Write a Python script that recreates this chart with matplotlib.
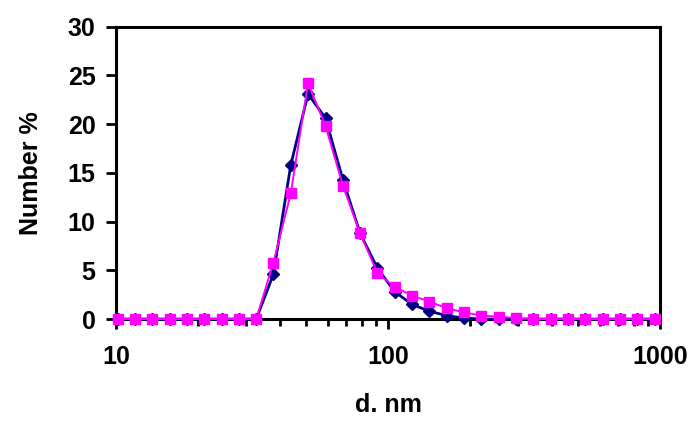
import matplotlib
matplotlib.use("Agg")
import matplotlib.pyplot as plt
from matplotlib.ticker import LogLocator, NullFormatter, FixedLocator, FixedFormatter

# Size bins (nm)
diameter = [10.1, 11.7, 13.5, 15.7, 18.2, 21.0, 24.4, 28.2, 32.7, 37.8,
            43.8, 50.7, 58.8, 68.1, 78.8, 91.3, 105.7, 122.4, 141.8, 164.2,
            190.1, 220.2, 255.0, 295.3, 342.0, 396.1, 458.7, 531.2, 615.1,
            712.4, 825.0, 955.4]

# Series 1 (navy diamonds)
number_a = [0, 0, 0, 0, 0, 0, 0, 0, 0, 4.6,
            15.8, 23.1, 20.6, 14.3, 8.8, 5.2, 2.8, 1.5, 0.8, 0.35,
            0.1, 0, 0, 0, 0, 0, 0, 0, 0, 0, 0, 0]

# Series 2 (magenta squares)
number_b = [0, 0, 0, 0, 0, 0, 0, 0, 0, 5.8,
            12.9, 24.2, 19.8, 13.7, 8.8, 4.7, 3.3, 2.4, 1.8, 1.1,
            0.7, 0.35, 0.25, 0.1, 0, 0, 0, 0, 0, 0, 0, 0]

y_ticks = [0, 5, 10, 15, 20, 25, 30]
x_ticks = [10, 100, 1000]
x_tick_labels = ["10", "100", "1000"]

plt.rcParams['font.family'] = ['Liberation Sans', 'DejaVu Sans']
plt.rcParams['font.weight'] = 'bold'

fig = plt.figure(figsize=(6.97, 4.30), dpi=100)
ax = fig.add_axes([0.167, 0.258, 0.780, 0.680])

ax.plot(diameter, number_a, color='#000080', lw=2.0, marker='D',
        markersize=6, markerfacecolor='#000080', markeredgecolor='#000080',
        zorder=3, clip_on=False)
ax.plot(diameter, number_b, color='#FF00FF', lw=1.4, marker='s',
        markersize=7.5, markerfacecolor='#FF00FF', markeredgecolor='#FF00FF',
        zorder=4, clip_on=False)

ax.set_xscale('log')
ax.set_xlim(10, 1000)
ax.set_ylim(0, 30)

ax.xaxis.set_major_locator(FixedLocator(x_ticks))
ax.xaxis.set_major_formatter(FixedFormatter(x_tick_labels))
ax.xaxis.set_minor_locator(LogLocator(base=10, subs=range(2, 10)))
ax.xaxis.set_minor_formatter(NullFormatter())
ax.set_yticks(y_ticks)

for s in ax.spines.values():
    s.set_linewidth(2.2)
    s.set_color('black')

ax.tick_params(axis='both', which='major', direction='out', length=7,
               width=2, labelsize=18, top=False, right=False)
ax.tick_params(axis='x', which='minor', direction='out', length=5,
               width=2, top=False)
ax.tick_params(axis='x', which='major', pad=12)
ax.tick_params(axis='y', which='major', pad=8)

for lbl in ax.get_xticklabels() + ax.get_yticklabels():
    lbl.set_fontweight('bold')

ax.set_xlabel('d. nm', fontsize=18, fontweight='bold', labelpad=17)
ax.set_ylabel('Number %', fontsize=18, fontweight='bold', labelpad=18)

fig.savefig('out.png', dpi=100, facecolor='white')
